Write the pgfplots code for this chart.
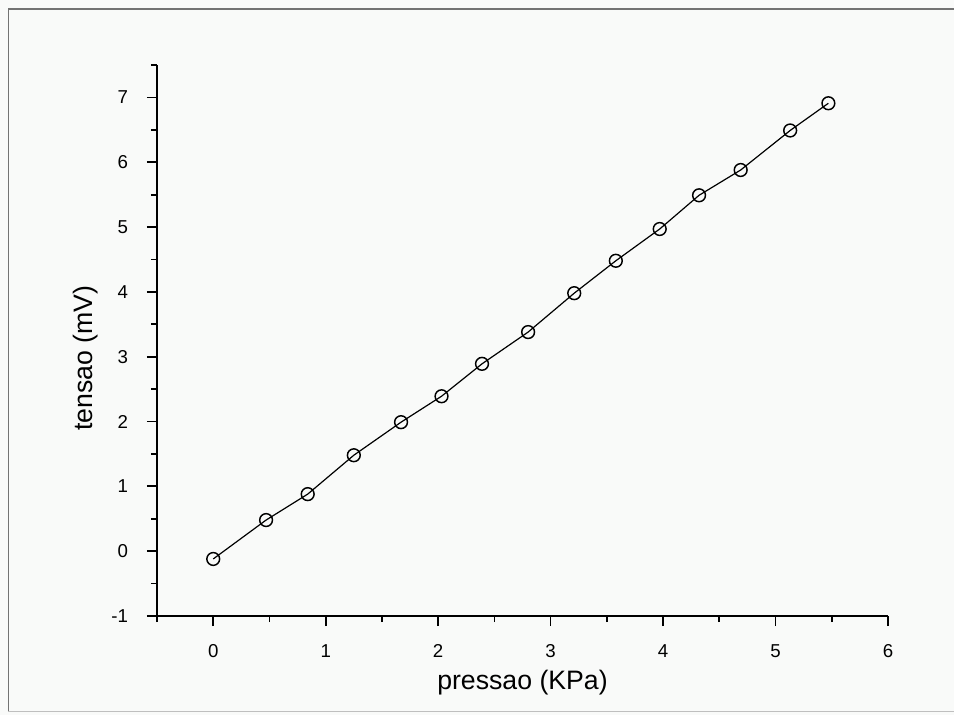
\documentclass[border=0pt]{standalone}
\usepackage{fontspec}
\setmainfont{Liberation Sans}
\usepackage{pgfplots}
\pgfplotsset{compat=1.18}
\definecolor{paper}{HTML}{F9FAF9}
\pgfdeclarelayer{bg}
\pgfsetlayers{bg,main}
\begin{document}
\begin{tikzpicture}
\begin{axis}[
  name=ax, at={(0,0)}, anchor=south west,
  scale only axis, width=548.25pt, height=413.25pt,
  xmin=-0.5, xmax=6, ymin=-1, ymax=7.5,
  axis lines=left,
  axis line style={-, line width=1.5pt, black},
  xtick={0,1,...,6}, ytick={-1,0,...,7},
  minor xtick={-0.5,0.5,...,5.5},
  minor ytick={-0.5,0.5,...,7.5},
  tick align=outside,
  major tick length=7.5pt, minor tick length=4.5pt,
  tick style={black, line width=1.3pt},
  /pgf/number format/assume math mode=true,
  tick label style={font=\fontsize{14}{14}\selectfont, inner sep=0pt},
  yticklabel style={anchor=east, xshift=-14pt},
  xticklabel style={anchor=north, yshift=-14pt},
  label style={font=\fontsize{20}{20}\selectfont},
  xlabel={pressao (KPa)},
  xlabel style={at={(axis description cs:0.5,-0.1343)}, anchor=base, inner sep=0pt},
  ylabel={tensao (mV)},
  ylabel style={at={(axis description cs:-0.0876,0.468)}, anchor=base, inner sep=0pt},
  clip=false,
]
\addplot[black, line width=0.9pt, mark=o,
  mark size=4.8pt, mark options={line width=1.1pt, fill=paper}]
  table {
x y
0.00 -0.12
0.47 0.48
0.84 0.88
1.25 1.48
1.67 1.99
2.03 2.39
2.39 2.89
2.80 3.38
3.21 3.98
3.58 4.48
3.97 4.97
4.32 5.49
4.69 5.88
5.13 6.49
5.47 6.91
};
\end{axis}
% page background and frame, placed from the corner of the plot box
\begin{scope}[shift={(ax.south west)}, x=0.75pt, y=0.75pt, shift={(-157,-99)}]
\begin{pgfonlayer}{bg}
\fill[paper] (0,0) rectangle (954,715);
\draw[black!55, line width=0.9pt] (8.5,4) -- (8.5,706) -- (954,706);
\draw[black!25, line width=0.6pt] (8.5,4) -- (954,4);
\end{pgfonlayer}
\pgfresetboundingbox
\path[use as bounding box] (0,0) rectangle (954,715);
\end{scope}
\end{tikzpicture}
\end{document}
